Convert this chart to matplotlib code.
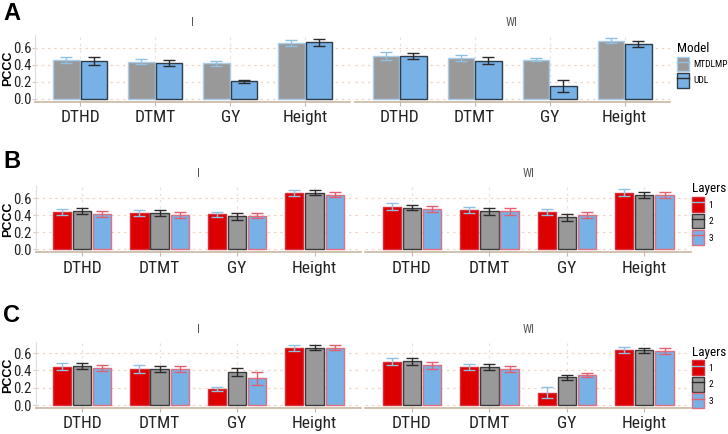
import os
import numpy as np
import matplotlib.pyplot as plt
from matplotlib import font_manager
from matplotlib.font_manager import FontProperties
from matplotlib.patches import Patch
from matplotlib.lines import Line2D

traits = ['DTHD', 'DTMT', 'GY', 'Height']
envs = ['I', 'WI']

# panel A: Model comparison (MTDLMP, UDL)
a_models = ['MTDLMP', 'UDL']
a_I_mean = [[0.456, 0.436, 0.417, 0.658],
            [0.444, 0.425, 0.206, 0.662]]
a_I_err = [[0.030, 0.030, 0.030, 0.035],
           [0.045, 0.035, 0.020, 0.040]]
a_WI_mean = [[0.506, 0.479, 0.460, 0.682],
             [0.506, 0.448, 0.148, 0.643]]
a_WI_err = [[0.045, 0.030, 0.015, 0.027],
            [0.037, 0.040, 0.068, 0.030]]

# panel B: layers 1,2,3
layers = ['1', '2', '3']
b_I_mean = [[0.443, 0.424, 0.412, 0.659],
            [0.451, 0.431, 0.388, 0.667],
            [0.416, 0.404, 0.396, 0.643]]
b_I_err = [[0.035, 0.035, 0.028, 0.035],
           [0.040, 0.033, 0.037, 0.030],
           [0.035, 0.035, 0.027, 0.030]]
b_WI_mean = [[0.502, 0.463, 0.443, 0.667],
             [0.490, 0.447, 0.376, 0.639],
             [0.478, 0.447, 0.404, 0.639]]
b_WI_err = [[0.040, 0.040, 0.035, 0.040],
            [0.030, 0.040, 0.037, 0.033],
            [0.037, 0.037, 0.030, 0.037]]

# panel C: layers 1,2,3
c_I_mean = [[0.442, 0.412, 0.188, 0.658],
            [0.450, 0.419, 0.381, 0.662],
            [0.431, 0.415, 0.308, 0.662]]
c_I_err = [[0.040, 0.045, 0.022, 0.035],
           [0.038, 0.035, 0.044, 0.030],
           [0.035, 0.035, 0.075, 0.030]]
c_WI_mean = [[0.500, 0.435, 0.142, 0.635],
             [0.504, 0.438, 0.319, 0.631],
             [0.458, 0.412, 0.346, 0.627]]
c_WI_err = [[0.040, 0.035, 0.065, 0.034],
            [0.037, 0.038, 0.030, 0.033],
            [0.038, 0.033, 0.023, 0.033]]

# fill, outline, errorbar colour
a_style = [('#999999', '#a9cde9', '#8fc1e3'),
           ('#78b1e6', '#2e3b48', '#2b2b2b')]
l_style = [('#dd0000', '#d8303c', '#8fc1e3'),
           ('#999999', '#3a3a3a', '#2b2b2b'),
           ('#78b1e6', '#e07080', '#e06070')]


# look for a narrow/condensed regular font, the original uses Arial Narrow
def find_narrow():
    best = None
    pref = ['Liberation', 'Noto Sans', 'Open Sans', 'Roboto', 'Lato', 'DejaVu']
    for f in font_manager.fontManager.ttflist:
        base = os.path.basename(f.fname)
        narrow = ('condensed' in str(f.stretch).lower() or 'Condensed' in f.name
                  or 'Narrow' in f.name or 'Condensed' in base or 'Narrow' in base)
        if not narrow or f.style != 'normal':
            continue
        if 'Semi' in base or 'Extra' in base or 'Ultra' in base:
            continue
        if f.weight not in (400, 'normal', 'regular'):
            continue
        rank = len(pref)
        for i, p in enumerate(pref):
            if p in f.name:
                rank = i
                break
        if best is None or rank < best[0]:
            best = (rank, f.fname)
    return best[1] if best else None


nf = find_narrow()
if nf:
    NARROW = FontProperties(fname=nf)
else:
    NARROW = FontProperties(family='Liberation Sans')


def fp(size):
    p = NARROW.copy()
    p.set_size(size)
    return p


BOLD = FontProperties(family=['Liberation Sans', 'DejaVu Sans'], weight='bold')

fig = plt.figure(figsize=(7.28, 4.34), dpi=100)


def draw(ax, means, errs, styles, offs, bw, ymax, show_y):
    x = np.arange(len(traits))
    for k in range(len(means)):
        fc, ec, erc = styles[k]
        ax.bar(x + offs[k], means[k], bw, color=fc, edgecolor=ec, linewidth=1.0, zorder=3)
        ax.errorbar(x + offs[k], means[k], yerr=errs[k], fmt='none', ecolor=erc,
                    elinewidth=1.0, capsize=4, capthick=1.0, zorder=4)
    ax.set_xlim(-0.6, len(traits) - 0.4)
    ax.set_ylim(-0.05 * ymax, 1.05 * ymax)
    ax.set_xticks(x)
    ax.set_xticklabels(traits, fontproperties=fp(12.5))
    ax.set_yticks([0.0, 0.2, 0.4, 0.6])
    if show_y:
        ax.set_yticklabels(['0.0', '0.2', '0.4', '0.6'], fontproperties=fp(10.5))
    else:
        ax.set_yticklabels([])
    for s in ['top', 'right']:
        ax.spines[s].set_visible(False)
    ax.spines['bottom'].set_color('#c9b6a3')
    ax.spines['bottom'].set_linewidth(1.2)
    if show_y:
        ax.spines['left'].set_color('#dddddd')
    else:
        ax.spines['left'].set_visible(False)
    ax.tick_params(axis='x', length=3, color='#c9b6a3', pad=3, labelcolor='#222222')
    ax.tick_params(axis='y', length=2 if show_y else 0, color='#cccccc', pad=0.8, labelcolor='#222222')
    ax.grid(axis='y', linestyle=(0, (2, 3)), color='#f0d5c4', linewidth=0.9, zorder=0)
    ax.grid(axis='x', linestyle=(0, (2, 3)), color='#e2e2e2', linewidth=0.9, zorder=0)
    ax.set_axisbelow(True)


# label, data, styles, dodge offsets, bar width, x positions, y position, letter y, legend top
rows = [
    ('A', a_I_mean, a_I_err, a_WI_mean, a_WI_err, a_style, [-0.185, 0.185], 0.35,
     (0.0485, 0.487, 0.4327), (0.765, 0.1537), 0.970, 0.906),
    ('B', b_I_mean, b_I_err, b_WI_mean, b_WI_err, l_style, [-0.26, 0.0, 0.26], 0.235,
     (0.0489, 0.502, 0.447), (0.4187, 0.152), 0.627, 0.582),
    ('C', c_I_mean, c_I_err, c_WI_mean, c_WI_err, l_style, [-0.26, 0.0, 0.26], 0.235,
     (0.0489, 0.502, 0.447), (0.0599, 0.152), 0.274, 0.206),
]

for lab, mI, eI, mW, eW, sty, offs, bw, xs, ys, ylab, ltop in rows:
    ymax = max(np.max(np.array(mI) + np.array(eI)), np.max(np.array(mW) + np.array(eW)))
    ax1 = fig.add_axes([xs[0], ys[0], xs[2], ys[1]])
    ax2 = fig.add_axes([xs[1], ys[0], xs[2], ys[1]])
    draw(ax1, mI, eI, sty, offs, bw, ymax, True)
    draw(ax2, mW, eW, sty, offs, bw, ymax, False)
    for ax, env in zip([ax1, ax2], envs):
        ax.text(0.5, 1.0 + 0.03 / ys[1], env, transform=ax.transAxes,
                fontproperties=fp(8.5), color='#555555', ha='center', va='center')
    fig.text(0.0115, ys[0] + ys[1] * 0.5, 'PCCC', rotation=90, fontproperties=BOLD,
             fontsize=9, ha='center', va='center')
    fig.text(0.004, ylab, lab, fontproperties=BOLD, fontsize=17, ha='left', va='center')

    if lab == 'A':
        names = a_models
    else:
        names = layers
    handles = [(Patch(facecolor=s[0], edgecolor=s[1], linewidth=1.0),
                Line2D([], [], color=s[2], linewidth=1.0)) for s in sty]
    leg = fig.legend(handles, names, title='Model' if lab == 'A' else 'Layers',
                     loc='upper left',
                     bbox_to_anchor=(0.928 if lab == 'A' else 0.949, ltop),
                     frameon=False, prop=fp(6.8), title_fontproperties=fp(9.5),
                     handlelength=1.3, handleheight=2.0, labelspacing=0.2,
                     handletextpad=0.45, borderpad=0.1, borderaxespad=0.0)
    leg._legend_box.align = 'left'

fig.savefig('out.png', dpi=100)
